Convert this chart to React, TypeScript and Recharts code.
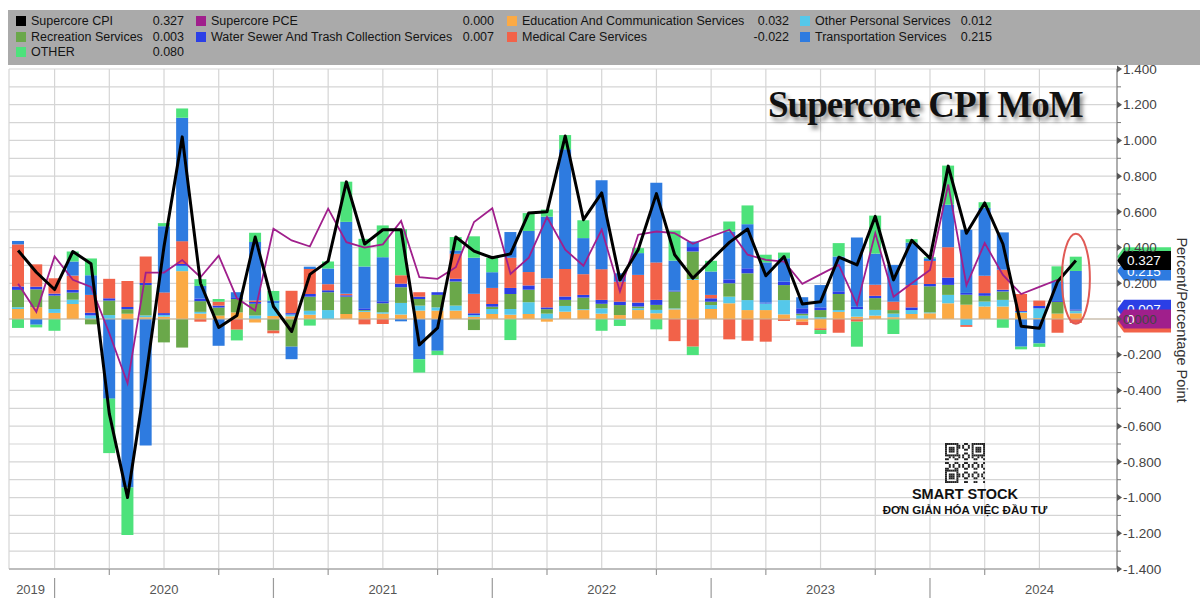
import {
  Bar,
  CartesianGrid,
  ComposedChart,
  Line,
  ReferenceDot,
  ReferenceLine,
  XAxis,
  YAxis,
} from "recharts";

const months = [
  "Oct 19", "Nov 19", "Dec 19",
  "Jan 20", "Feb 20", "Mar 20", "Apr 20", "May 20", "Jun 20", "Jul 20", "Aug 20", "Sep 20", "Oct 20", "Nov 20", "Dec 20",
  "Jan 21", "Feb 21", "Mar 21", "Apr 21", "May 21", "Jun 21", "Jul 21", "Aug 21", "Sep 21", "Oct 21", "Nov 21", "Dec 21",
  "Jan 22", "Feb 22", "Mar 22", "Apr 22", "May 22", "Jun 22", "Jul 22", "Aug 22", "Sep 22", "Oct 22", "Nov 22", "Dec 22",
  "Jan 23", "Feb 23", "Mar 23", "Apr 23", "May 23", "Jun 23", "Jul 23", "Aug 23", "Sep 23", "Oct 23", "Nov 23", "Dec 23",
  "Jan 24", "Feb 24", "Mar 24", "Apr 24", "May 24", "Jun 24", "Jul 24", "Aug 24",
];

const supercoreCpi = [
  0.384, 0.262, 0.165,
  0.378, 0.309, -0.53, -1.0, -0.33, 0.406, 1.02, 0.2, -0.047, 0.02, 0.459, 0.07,
  -0.07, 0.25, 0.324, 0.768, 0.42, 0.5, 0.5, -0.145, -0.05, 0.459, 0.38, 0.343,
  0.365, 0.594, 0.6, 1.025, 0.556, 0.706, 0.219, 0.388, 0.702, 0.36, 0.228, 0.33,
  0.429, 0.504, 0.242, 0.35, 0.084, 0.097, 0.346, 0.303, 0.575, 0.219, 0.44, 0.34,
  0.856, 0.48, 0.65, 0.42, -0.04, -0.052, 0.21, 0.327,
];

const supercorePce = [
  0.197, 0.04, 0.35,
  0.22, 0.18, -0.08, -0.36, 0.26, 0.26, 0.33, 0.234, 0.355, 0.116, 0.047, 0.505,
  0.44, 0.406, 0.618, 0.43, 0.4, 0.418, 0.549, 0.234, 0.225, 0.29, 0.543, 0.62,
  0.253, 0.343, 0.571, 0.388, 0.298, 0.5, 0.154, 0.472, 0.49, 0.481, 0.421, 0.462,
  0.5, 0.36, 0.331, 0.322, 0.197, 0.25, 0.303, 0.079, 0.481, 0.125, 0.2, 0.275,
  0.753, 0.19, 0.425, 0.247, 0.14, 0.18, 0.22, null,
];

const education = [
  0.056, 0.066, 0.034,
  0.084, 0, 0, 0.03, 0.01, 0.013, 0.268, 0.03, 0.019, 0.037, -0.02, 0.017,
  0.015, 0.024, 0, 0.028, 0.04, 0.03, 0.025, 0.047, 0.047, 0.047, 0.012, 0.028,
  0.024, 0.028, -0.015, 0.041, 0.05, 0.03, 0.022, 0.05, 0.032, 0.054, 0.219, 0.056,
  0.088, 0.05, 0.05, 0.026, -0.015, -0.052, 0.04, 0.013, 0.019, 0.01, 0.028, 0.032,
  0.088, 0.08, 0.07, 0.07, 0.035, 0.005, 0.03, 0.032,
];

const otherPersonal = [
  0.01, 0, 0.022,
  0.024, 0.02, 0.022, 0, 0.01, 0.01, 0.03, 0.01, 0, 0, 0.02, 0.072,
  0.01, 0.022, 0.05, 0, 0.005, 0.008, 0.065, 0.028, 0.018, 0.028, 0.01, 0.028,
  0.032, 0.066, 0.03, 0.032, 0.005, 0.03, -0.005, 0.01, 0.019, 0.005, 0.005, 0.022,
  0.037, 0.056, 0.037, 0.08, 0.02, 0.01, 0.01, 0.043, 0.032, 0.02, 0.022, 0.005,
  0.047, -0.034, 0.028, 0.037, 0.005, 0.055, 0, 0.012,
];

const recreation = [
  0.097, 0.1, 0.075,
  0.04, -0.03, 0.081, 0.025, 0.17, -0.131, -0.16, 0.06, 0.045, 0.075, 0.065, -0.065,
  -0.155, 0.079, 0.1, 0.097, 0.005, 0.05, 0.088, 0.037, 0.07, 0.135, -0.062, 0.013,
  0.084, 0.07, 0.025, 0.034, 0.065, 0.025, 0.056, 0.01, 0.028, 0.095, 0.154, 0.019,
  0.075, 0.15, 0, 0.084, 0.01, 0.04, 0.09, 0, 0.066, 0.02, 0, 0.146,
  0.056, 0.056, 0.032, 0.047, 0, 0, 0.066, 0.003,
];

const waterSewer = [
  0.019, 0.015, 0.011,
  0.015, 0.015, 0.013, 0.012, 0.012, 0.01, 0.01, 0.015, 0.011, 0.01, 0.01, 0,
  0.008, 0.015, 0.011, 0.008, 0.01, 0.011, 0.02, 0.013, 0.015, 0.015, 0.01, 0.015,
  0.034, 0.024, 0.01, 0.019, 0.015, 0.022, 0.019, 0.022, 0.028, 0.005, 0.025, 0.019,
  0.022, 0.028, 0.005, 0.019, 0.03, 0.015, 0.015, 0.013, 0.013, 0, 0.015, 0.013,
  0.041, 0.01, 0.015, 0.01, 0.005, 0.013, 0.005, 0.007,
];

const medicalCare = [
  0.236, 0.125, 0.086,
  0.08, 0.1, 0.109, 0.146, 0.148, 0.116, 0.128, -0.015, 0.022, -0.06, 0.008, -0.015,
  0.125, 0.14, 0.034, 0.008, -0.03, -0.028, 0.047, 0.025, 0, 0.14, 0.109, 0.09,
  0.169, 0.075, 0.163, 0.154, 0.116, 0.172, 0.112, 0.155, 0.21, -0.124, -0.155, 0.019,
  -0.114, -0.122, -0.127, -0.011, -0.019, -0.01, -0.077, -0.015, 0.062, 0.047, 0.125, 0.129,
  0.17, -0.01, 0.097, 0.112, 0.095, 0.03, -0.077, -0.022,
];

const transportation = [
  0.019, -0.032, 0,
  0.079, 0.11, -0.446, -0.944, -0.708, 0.371, 0.691, 0.07, -0.15, 0.028, 0.328, 0.014,
  -0.07, 0.013, 0.088, 0.403, 0.234, 0.247, -0.013, -0.225, -0.178, 0.019, 0.202, 0.088,
  0.144, 0.23, 0.345, 0.67, 0.202, 0.498, 0.047, 0.122, 0.446, 0.168, 0.031, 0.131,
  0.268, 0.247, 0.225, 0.131, 0.062, 0.125, 0.195, 0.388, 0.174, 0.206, 0.238, 0.015,
  0.238, 0.354, 0.38, 0.209, -0.155, -0.137, 0.11, 0.215,
];

const otherServices = [
  -0.05, -0.015, -0.066,
  0.056, 0.094, -0.305, -0.266, 0, 0.017, 0.052, 0.038, 0.015, -0.06, 0.052, 0.054,
  0, -0.037, 0.039, 0.225, 0.155, 0.178, 0.258, -0.075, -0.024, 0.075, 0.12, 0.08,
  -0.118, 0.1, 0.04, 0.08, 0.1, -0.066, -0.034, 0.028, -0.058, 0.169, -0.047, 0.06,
  0.056, 0.105, 0.043, 0.032, 0, -0.022, 0.075, -0.14, 0.213, -0.084, 0.019, 0.006,
  0.219, 0, 0.032, -0.049, -0.015, -0.019, 0.084, 0.08,
];

const quarterTicks = [
  "Dec 19", "Mar 20", "Jun 20", "Sep 20", "Dec 20", "Mar 21", "Jun 21", "Sep 21", "Dec 21",
  "Mar 22", "Jun 22", "Sep 22", "Dec 22", "Mar 23", "Jun 23", "Sep 23", "Dec 23", "Mar 24", "Jun 24",
];

const yTicks = [
  -1.4, -1.3, -1.2, -1.1, -1.0, -0.9, -0.8, -0.7, -0.6, -0.5, -0.4, -0.3, -0.2, -0.1, 0,
  0.1, 0.2, 0.3, 0.4, 0.5, 0.6, 0.7, 0.8, 0.9, 1.0, 1.1, 1.2, 1.3, 1.4,
];

// stack order, bottom to top
const components = [
  { key: "education", name: "Education And Communication Services", color: "#fbaa45", values: education },
  { key: "otherPersonal", name: "Other Personal Services", color: "#55c8ea", values: otherPersonal },
  { key: "recreation", name: "Recreation Services", color: "#6aa84a", values: recreation },
  { key: "water", name: "Water Sewer And Trash Collection Services", color: "#2b3fe6", values: waterSewer },
  { key: "medical", name: "Medical Care Services", color: "#f26249", values: medicalCare },
  { key: "transport", name: "Transportation Services", color: "#2e7be0", values: transportation },
  { key: "other", name: "OTHER", color: "#4de27b", values: otherServices },
];

const lines = [
  { key: "cpi", name: "Supercore CPI", color: "#000000", values: supercoreCpi },
  { key: "pce", name: "Supercore PCE", color: "#a01f8c", values: supercorePce },
];

const legendOrder = [
  "cpi", "pce", "education", "otherPersonal",
  "recreation", "water", "medical", "transport",
  "other",
];

const rows = months.map((m, i) => {
  const row: Record<string, any> = { m };
  components.forEach((c) => (row[c.key] = c.values[i]));
  lines.forEach((l) => (row[l.key] = l.values[i]));
  return row;
});

const last = months.length - 1;
const lastValue = (key: string) => {
  const s = [...components, ...lines].find((x) => x.key === key)!;
  return s.values[last] ?? 0;
};

// y position of a component's last-value tag: top of its segment in the stack
const stackEdge = (key: string) => {
  let pos = 0;
  let neg = 0;
  for (const c of components) {
    const v = c.values[last];
    if (v >= 0) pos += v;
    else neg += v;
    if (c.key === key) return v >= 0 ? pos : neg;
  }
  return 0;
};

const FONT = "'Liberation Sans', Arial, sans-serif";

const XTick = (props: any) => {
  const { x, y, payload } = props;
  const v: string = payload.value;
  const mon = v.slice(0, 3);
  if (mon === "Dec") {
    return (
      <g>
        <line x1={x} x2={x} y1={y + 9} y2={y + 29} stroke="#9a9a9a" strokeWidth={1.2} />
        {v === "Dec 19" && (
          <text x={x - 24} y={y + 25} textAnchor="middle" fontSize={13} fill="#555" fontFamily={FONT}>
            2019
          </text>
        )}
      </g>
    );
  }
  if (mon === "Jun") {
    return (
      <text x={x} y={y + 25} textAnchor="middle" fontSize={13} fill="#555" fontFamily={FONT}>
        {"20" + v.slice(4)}
      </text>
    );
  }
  return <line x1={x} x2={x} y1={y} y2={y + 6} stroke="#9a9a9a" strokeWidth={1.2} />;
};

const YTick = (props: any) => {
  const { x, y, payload } = props;
  const v: number = payload.value;
  const major = Math.round(v * 10) % 2 === 0;
  if (!major) return <line x1={x} x2={x + 4} y1={y} y2={y} stroke="#777" />;
  return (
    <g>
      <path d={`M${x} ${y - 3.5}L${x + 5} ${y}L${x} ${y + 3.5}Z`} fill="#555" />
      <text x={x + 6} y={y} dy="0.35em" fontSize={13.5} fill="#444" fontFamily={FONT}>
        {v.toFixed(3)}
      </text>
    </g>
  );
};

const tag = (color: string, text: string) => (props: any) => {
  const vb = props.viewBox;
  const x = vb.x + vb.width;
  const y = vb.y;
  return (
    <g>
      <path
        d={`M${x} ${y}L${x + 7} ${y - 9.5}L${x + 54} ${y - 9.5}L${x + 54} ${y + 9.5}L${x + 7} ${y + 9.5}Z`}
        fill={color}
      />
      <text x={x + 10} y={y} dy="0.36em" fontSize={13.5} fill="#fff" fontFamily={FONT}>
        {text}
      </text>
    </g>
  );
};

const tags = [
  { color: "#4de27b", text: "0.080", y: stackEdge("other") },
  { color: "#2e7be0", text: "0.215", y: stackEdge("transport") },
  { color: "#000000", text: lastValue("cpi").toFixed(3), y: lastValue("cpi") },
  { color: "#2b3fe6", text: "0.007", y: stackEdge("water") },
  { color: "#f26249", text: "-0.022", y: stackEdge("medical") },
  { color: "#a01f8c", text: "0", y: lastValue("pce") },
];

function QrMark() {
  const n = 21;
  const s = 40 / n;
  const cells: JSX.Element[] = [];
  const finder = (r: number, c: number) => {
    const inBox = (r0: number, c0: number) => r >= r0 && r < r0 + 7 && c >= c0 && c < c0 + 7;
    for (const [r0, c0] of [[0, 0], [0, 14], [14, 0]]) {
      if (inBox(r0, c0)) {
        const rr = r - r0;
        const cc = c - c0;
        const ring = rr === 0 || rr === 6 || cc === 0 || cc === 6;
        const core = rr >= 2 && rr <= 4 && cc >= 2 && cc <= 4;
        return ring || core ? 1 : 0;
      }
    }
    return -1;
  };
  for (let r = 0; r < n; r++) {
    for (let c = 0; c < n; c++) {
      const f = finder(r, c);
      const on = f === -1 ? (r * 7 + c * 11 + r * c) % 5 < 2 : f === 1;
      if (on) cells.push(<rect key={`${r}-${c}`} x={c * s} y={r * s} width={s + 0.05} height={s + 0.05} fill="#222" />);
    }
  }
  return (
    <svg width={40} height={40} style={{ position: "absolute", left: 945, top: 443 }}>
      {cells}
    </svg>
  );
}

function LegendBox() {
  const squareX = [16, 196, 507, 800];
  const valueRight = [184, 494, 789, 992];
  const all = [...lines, ...components];
  return (
    <div
      style={{
        position: "absolute",
        left: 8,
        top: 10,
        width: 1192,
        height: 55,
        background: "#aaaaaa",
        fontFamily: FONT,
        fontSize: 12.5,
        color: "#141414",
      }}
    >
      {legendOrder.map((key, i) => {
        const item = all.find((a) => a.key === key)!;
        const col = i % 4;
        const row = Math.floor(i / 4);
        const top = 4 + row * 15.5;
        return (
          <div key={key}>
            <div
              style={{
                position: "absolute",
                left: squareX[col] - 8,
                top: top + 2,
                width: 10,
                height: 10,
                background: item.color,
              }}
            />
            <div style={{ position: "absolute", left: squareX[col] + 7, top, whiteSpace: "nowrap", lineHeight: "14px" }}>
              {item.name}
            </div>
            <div
              style={{
                position: "absolute",
                right: 1192 - (valueRight[col] - 8),
                top,
                whiteSpace: "nowrap",
                lineHeight: "14px",
              }}
            >
              {lastValue(key).toFixed(3)}
            </div>
          </div>
        );
      })}
    </div>
  );
}

export default function App() {
  return (
    <div
      style={{
        position: "absolute",
        left: 0,
        top: 0,
        width: 1200,
        height: 602,
        background: "#fff",
        overflow: "hidden",
        fontFamily: FONT,
      }}
    >
      <ComposedChart
        width={1200}
        height={602}
        data={rows}
        stackOffset="sign"
        barSize={12}
        margin={{ top: 69, right: 0, bottom: 0, left: 9 }}
      >
        <CartesianGrid stroke="#d5d5d5" strokeWidth={1.2} />
        <XAxis
          dataKey="m"
          ticks={quarterTicks}
          interval={0}
          tick={XTick}
          tickLine={false}
          tickSize={0}
          tickMargin={0}
          height={33}
          padding={{ left: 0, right: 32 }}
          axisLine={{ stroke: "#bdbdbd", strokeWidth: 2 }}
        />
        <YAxis
          orientation="right"
          width={83}
          domain={[-1.4, 1.4]}
          ticks={yTicks}
          interval={0}
          tick={YTick}
          tickLine={false}
          tickSize={0}
          tickMargin={0}
          axisLine={{ stroke: "#777" }}
          allowDataOverflow
        />
        <ReferenceLine y={0} stroke="#c4b49c" strokeWidth={1} />
        {components.map((c) => (
          <Bar key={c.key} dataKey={c.key} name={c.name} stackId="s" fill={c.color} isAnimationActive={false} />
        ))}
        <Line
          dataKey="pce"
          name="Supercore PCE"
          type="linear"
          stroke="#a01f8c"
          strokeWidth={1.8}
          dot={false}
          isAnimationActive={false}
        />
        <Line
          dataKey="cpi"
          name="Supercore CPI"
          type="linear"
          stroke="#000"
          strokeWidth={3}
          strokeLinejoin="round"
          dot={false}
          isAnimationActive={false}
        />
        <ReferenceDot
          x="Aug 24"
          y={0.225}
          ifOverflow="visible"
          shape={(p: any) => (
            <ellipse cx={p.cx} cy={p.cy} rx={14} ry={45} fill="none" stroke="#e05a55" strokeWidth={2} />
          )}
        />
        {tags.map((t) => (
          <ReferenceLine
            key={t.color + t.text}
            y={t.y}
            stroke="none"
            ifOverflow="visible"
            label={{ content: tag(t.color, t.text) }}
          />
        ))}
      </ComposedChart>

      <LegendBox />

      <div
        style={{
          position: "absolute",
          left: 768,
          top: 86,
          fontFamily: "'Liberation Serif', 'Times New Roman', serif",
          fontWeight: "bold",
          fontSize: 37,
          letterSpacing: -1,
          lineHeight: "37px",
          color: "#111",
          textShadow: "3px 4px 4px rgba(0,0,0,0.45)",
          whiteSpace: "nowrap",
        }}
      >
        Supercore CPI MoM
      </div>

      <div
        style={{
          position: "absolute",
          left: 1182,
          top: 320,
          transform: "translate(-50%, -50%) rotate(90deg)",
          fontSize: 14.5,
          color: "#333",
          whiteSpace: "nowrap",
        }}
      >
        Percent/Percentage Point
      </div>

      <QrMark />
      <div
        style={{
          position: "absolute",
          left: 865,
          width: 200,
          top: 486,
          textAlign: "center",
          fontWeight: "bold",
          color: "#111",
        }}
      >
        <div style={{ fontSize: 14.5, lineHeight: "17px" }}>SMART STOCK</div>
        <div style={{ fontSize: 11.5, lineHeight: "15px" }}>ĐƠN GIẢN HÓA VIỆC ĐẦU TƯ</div>
      </div>
    </div>
  );
}
